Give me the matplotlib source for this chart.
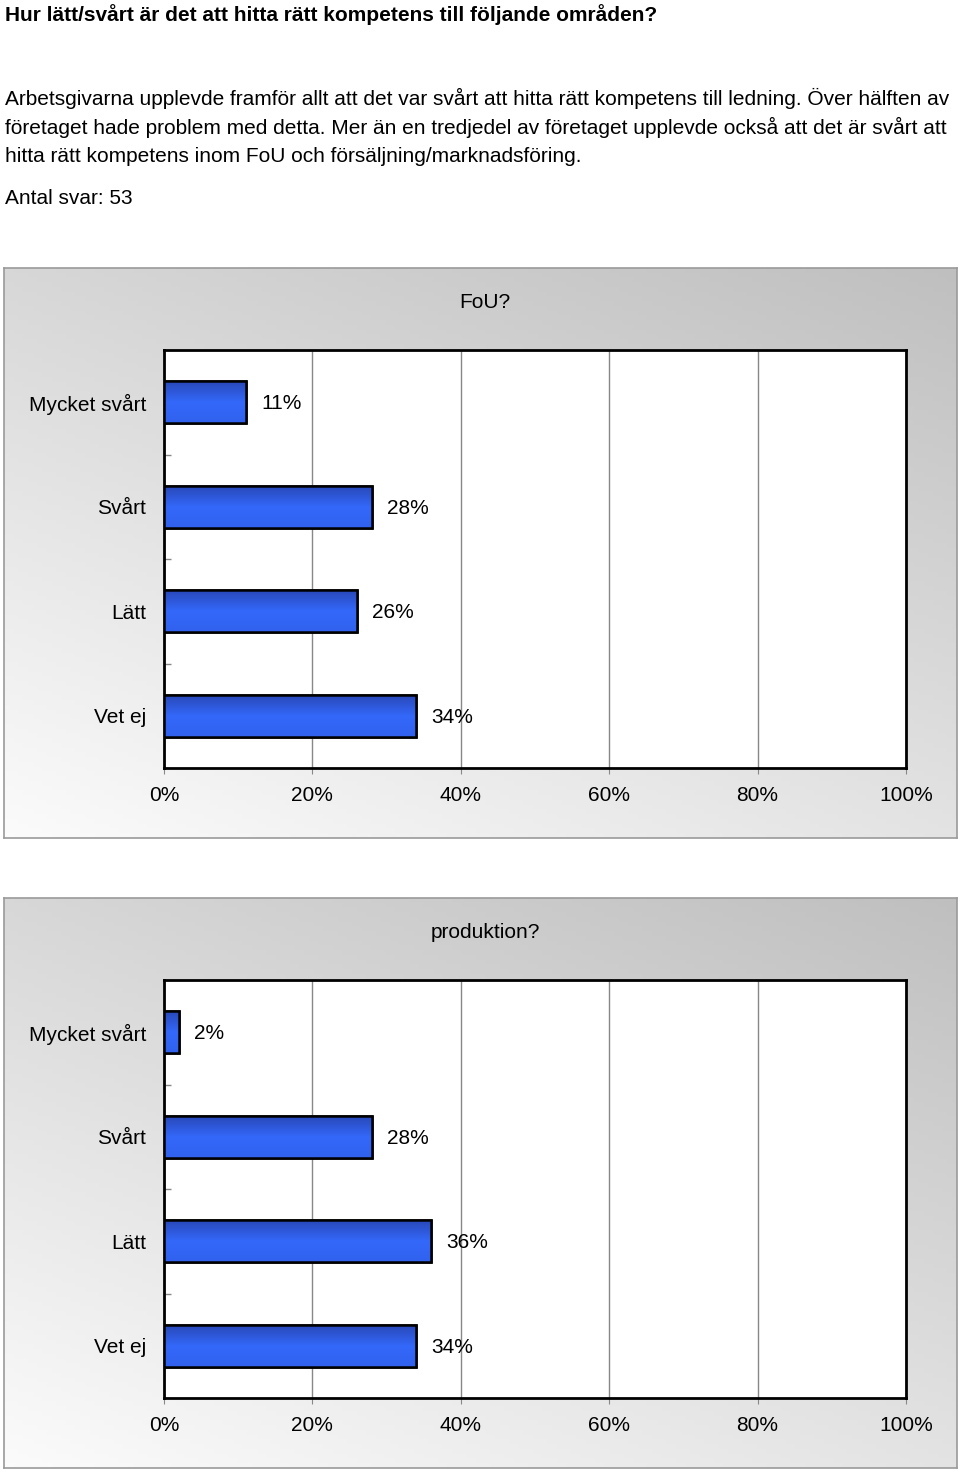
import numpy as np
import matplotlib
matplotlib.use("Agg")
import matplotlib.pyplot as plt
from matplotlib.patches import Rectangle
from matplotlib.colors import LinearSegmentedColormap

# Data
categories = ["Mycket svårt", "Svårt", "Lätt", "Vet ej"]
fou_values = [11, 28, 26, 34]
prod_values = [2, 28, 36, 34]
panel_titles = ["FoU?", "produktion?"]
x_ticks = [0, 20, 40, 60, 80, 100]
x_ticklabels = ["0%", "20%", "40%", "60%", "80%", "100%"]

heading = "Hur lätt/svårt är det att hitta rätt kompetens till följande områden?"
body_lines = [
    "Arbetsgivarna upplevde framför allt att det var svårt att hitta rätt kompetens till ledning. Över hälften av",
    "företaget hade problem med detta. Mer än en tredjedel av företaget upplevde också att det är svårt att",
    "hitta rätt kompetens inom FoU och försäljning/marknadsföring.",
]
answers = "Antal svar: 53"

W, H = 960, 1473
plt.rcParams["font.family"] = ["Liberation Sans", "DejaVu Sans"]

fig = plt.figure(figsize=(W / 100, H / 100), dpi=100)


def fx(x):
    return x / W


def fy(y):
    return 1 - y / H


# Header text
fig.text(fx(5), fy(15), heading, fontsize=15, fontweight="bold",
         ha="left", va="center")
for i, line in enumerate(body_lines):
    fig.text(fx(5), fy(98 + 29 * i), line, fontsize=15, ha="left", va="center")
fig.text(fx(5), fy(198), answers, fontsize=15, ha="left", va="center")

bar_cmap = LinearSegmentedColormap.from_list("bar", ["#2848b8", "#3468fa", "#3062ee"])


def draw_panel(top, title, values):
    # background panel with gradient
    bg = fig.add_axes([fx(4), fy(top + 570), fx(953), 570 / H])
    nx, ny = 200, 120
    u = np.linspace(0, 1, nx)[None, :]
    v = np.linspace(0, 1, ny)[:, None]
    s = 0.4 * u + 0.6 * (1 - v)
    grey = 0.985 - 0.235 * s
    img = np.dstack([grey, grey, grey])
    bg.imshow(img, extent=[0, 1, 0, 1], origin="upper", aspect="auto")
    bg.set_xlim(0, 1)
    bg.set_ylim(0, 1)
    bg.set_xticks([])
    bg.set_yticks([])
    for sp in bg.spines.values():
        sp.set_color("#9a9a9a")
        sp.set_linewidth(1.2)

    fig.text(fx(485), fy(top + 35), title, fontsize=15, ha="center", va="center")

    ax = fig.add_axes([fx(164), fy(top + 500), 742 / W, 418 / H])
    y = np.arange(len(categories))
    bars = ax.barh(y, values, height=0.4, color="#3366ff", edgecolor="black",
                   linewidth=1.8, zorder=3)
    grad = np.linspace(0, 1, 100)[:, None]
    for b in bars:
        x0, y0 = b.get_x(), b.get_y()
        w, h = b.get_width(), b.get_height()
        im = ax.imshow(grad, cmap=bar_cmap, extent=[x0, x0 + w, y0 + h, y0],
                       aspect="auto", zorder=3.5, interpolation="bilinear")
        im.set_clip_path(b)
        edge = Rectangle((x0, y0), w, h, facecolor="none", edgecolor="black",
                         linewidth=1.8, zorder=4)
        ax.add_patch(edge)
    ax.set_xlim(0, 100)
    ax.set_ylim(len(categories) - 0.5, -0.5)

    for yi, val in zip(y, values):
        ax.annotate(f"{val}%", (val, yi), xytext=(11, -1), textcoords="offset points",
                    ha="left", va="center", fontsize=15, zorder=5)

    ax.set_xticks(x_ticks)
    ax.set_xticklabels(x_ticklabels, fontsize=15)
    ax.set_yticks(y)
    ax.set_yticklabels(categories, fontsize=15, va="center_baseline")
    ax.set_yticks([0.5, 1.5, 2.5], minor=True)
    ax.tick_params(axis="y", which="major", length=0, pad=13)
    ax.tick_params(axis="y", which="minor", direction="in", length=5,
                   color="#888888", width=1)
    ax.tick_params(axis="x", which="major", direction="out", length=4,
                   color="#888888", pad=9)
    ax.grid(axis="x", color="#888888", linewidth=1, zorder=1)
    ax.set_axisbelow(True)
    for sp in ax.spines.values():
        sp.set_color("black")
        sp.set_linewidth(2)
    ax.set_facecolor("white")


draw_panel(268, panel_titles[0], fou_values)
draw_panel(898, panel_titles[1], prod_values)

fig.savefig("out.png", dpi=100)
